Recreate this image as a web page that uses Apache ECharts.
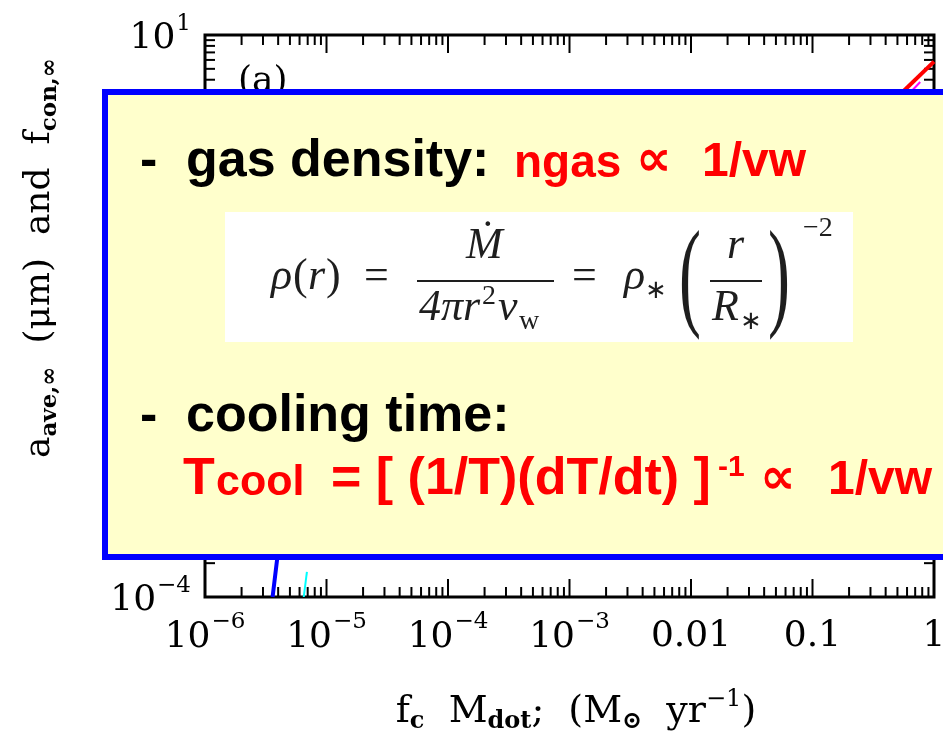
<!DOCTYPE html>
<html>
<head>
<meta charset="utf-8">
<script src="https://cdn.jsdelivr.net/npm/echarts@6/dist/echarts.min.js"></script>
<style>
  html, body { margin: 0; padding: 0; background: #fff; }
  #chart { width: 943px; height: 739px; }
</style>
</head>
<body>
<div id="chart"></div>
<script>
// Decades shown on each log axis and their tick labels ([mantissa text, exponent text])
const xDecades = [-6, -5, -4, -3, -2, -1, 0];
const xTickLabels = [['10', '\u22126'], ['10', '\u22125'], ['10', '\u22124'], ['10', '\u22123'], ['0.01', ''], ['0.1', ''], ['1', '']];
const yDecades = [-4, -3, -2, -1, 0, 1];
const yTickLabels = [['10', '\u22124'], ['10', '\u22123'], ['0.01', ''], ['0.1', ''], ['1', ''], ['10', '1']];

// Model curves: [f_c Mdot (Msun/yr), a_ave or f_con]
const redCurve = [[0.5, 2.81], [1.0, 5.79]];
const magentaCurve = [[0.55, 2.6], [0.77, 3.82]];
const blueCurve = [[3.6e-6, 1.0e-4], [3.95e-6, 2.3e-4], [4.3e-6, 5.0e-4]];
const cyanCurve = [[6.5e-6, 1.0e-4], [6.9e-6, 1.67e-4]];

const SERIF = 'DejaVu Serif';
const SANS = 'Liberation Sans';
const MATH = 'Liberation Serif';
const LBL = 36;      // tick label size
const TTL = 38;      // axis title size
const SUP = 23;      // super/subscript size

// Tick marks on all four sides of the frame: [x, y, axis(0=x,1=y), major]
const tickData = [];
xDecades.forEach(function (d) {
  tickData.push([Math.pow(10, d), 1, 0, 1]);
  if (d < xDecades[xDecades.length - 1]) {
    for (let m = 2; m <= 9; m++) tickData.push([m * Math.pow(10, d), 1, 0, 0]);
  }
});
yDecades.forEach(function (d) {
  tickData.push([1e-3, Math.pow(10, d), 1, 1]);
  if (d < yDecades[yDecades.length - 1]) {
    for (let m = 2; m <= 9; m++) tickData.push([1e-3, m * Math.pow(10, d), 1, 0]);
  }
});

function tickText(decades, labels) {
  return function (val) {
    const i = decades.indexOf(Math.round(Math.log10(val)));
    if (i < 0) return '';
    const l = labels[i];
    return l[1] ? '{b|' + l[0] + '}{e|' + l[1] + '}' : '{b|' + l[0] + '}';
  };
}
const tickRich = {
  b: { fontFamily: SERIF, fontSize: LBL, color: '#000', padding: [8, 0, 0, 0] },
  e: { fontFamily: SERIF, fontSize: SUP, color: '#000', padding: [0, 0, 22, 1] }
};

// Text placed by its baseline
function txt(str, x, base, size, color, extra) {
  return {
    type: 'text', x: x, y: base - 0.35 * size, z: 120,
    style: Object.assign({
      text: str, fontSize: size, fontFamily: SANS, fontWeight: 'bold',
      fill: color, align: 'left', verticalAlign: 'middle'
    }, extra || {})
  };
}
function mtxt(str, x, base, size, extra) {
  return txt(str, x, base, size, '#1e1e1e', Object.assign({ fontFamily: MATH, fontWeight: 'normal', fontStyle: 'italic' }, extra || {}));
}

const RED = '#ff0000';
const BLK = '#000000';

const graphics = [
  // y-axis title
  {
    type: 'text', x: 40, y: 258, rotation: Math.PI / 2, z: 10,
    style: {
      text: 'a{s|ave,\u221e}  (\u03bcm)  and  f{s|con,\u221e}',
      fontFamily: SERIF, fontSize: LBL, fill: '#000', align: 'center', verticalAlign: 'middle',
      rich: { s: { fontFamily: SERIF, fontSize: SUP, fontWeight: 'bold', padding: [20, 0, 0, 0] } }
    }
  },
  // x-axis title
  {
    type: 'text', x: 576, y: 712, z: 10,
    style: {
      text: 'f{s|c}  M{s|dot};  (M{s|\u2299}  yr{p|\u22121})',
      fontFamily: SERIF, fontSize: TTL, fill: '#000', align: 'center', verticalAlign: 'middle',
      rich: {
        s: { fontFamily: SERIF, fontSize: 24, fontWeight: 'bold', padding: [20, 0, 0, 0] },
        p: { fontFamily: SERIF, fontSize: 24, padding: [0, 0, 24, 0] }
      }
    }
  },
  // panel tag
  {
    type: 'text', x: 238, y: 82, z: 10,
    style: { text: '(a)', fontFamily: SERIF, fontSize: LBL, fill: '#000', align: 'left', verticalAlign: 'middle' }
  },
  // overlay note box
  {
    type: 'rect', z: 100,
    shape: { x: 105, y: 92, width: 900, height: 465 },
    style: { fill: '#ffffcc', stroke: '#0000ff', lineWidth: 6 }
  },
  // formula background
  {
    type: 'rect', z: 110,
    shape: { x: 225, y: 212, width: 628, height: 130 },
    style: { fill: '#ffffff' }
  },

  // line 1
  txt('-', 140, 180, 52, BLK),
  txt('gas density:', 186, 180, 52, BLK),
  txt('ngas', 514, 180, 46, RED),
  txt('\u221d', 636, 180, 50, RED, { fontFamily: 'DejaVu Sans' }),
  txt('1/vw', 702, 180, 48, RED),

  // formula
  mtxt('\u03c1', 271, 293, 44),
  mtxt('(', 293, 293, 44, { fontStyle: 'normal' }),
  mtxt('r', 308, 293, 44),
  mtxt(')', 326, 293, 44, { fontStyle: 'normal' }),
  mtxt('=', 364, 293, 44, { fontStyle: 'normal' }),
  mtxt('\u1e40', 466, 262, 44),
  { type: 'line', z: 120, shape: { x1: 417, y1: 281, x2: 554, y2: 281 }, style: { stroke: '#1e1e1e', lineWidth: 2 } },
  mtxt('4\u03c0r', 419, 324, 44),
  mtxt('2', 482, 306, 28, { fontStyle: 'normal' }),
  mtxt('v', 498, 324, 44),
  mtxt('w', 519, 331, 28, { fontStyle: 'normal' }),
  mtxt('=', 572, 293, 44, { fontStyle: 'normal' }),
  mtxt('\u03c1', 624, 293, 44),
  mtxt('\u2217', 645, 300, 26, { fontStyle: 'normal' }),
  {
    type: 'text', x: 679, y: 282, z: 120, scaleX: 0.55,
    style: { text: '(', fontFamily: MATH, fontSize: 120, fill: '#1e1e1e', align: 'left', verticalAlign: 'middle' }
  },
  mtxt('r', 727, 262, 44),
  { type: 'line', z: 120, shape: { x1: 710, y1: 281, x2: 762, y2: 281 }, style: { stroke: '#1e1e1e', lineWidth: 2 } },
  mtxt('R', 712, 324, 44),
  mtxt('\u2217', 740, 331, 26, { fontStyle: 'normal' }),
  {
    type: 'text', x: 768, y: 282, z: 120, scaleX: 0.55,
    style: { text: ')', fontFamily: MATH, fontSize: 120, fill: '#1e1e1e', align: 'left', verticalAlign: 'middle' }
  },
  mtxt('\u22122', 803, 238, 28, { fontStyle: 'normal' }),

  // line 3
  txt('-', 140, 435, 52, BLK),
  txt('cooling time:', 186, 435, 52, BLK),

  // line 4
  txt('T', 183, 498, 52, RED),
  txt('cool', 216, 498, 43, RED),
  txt('= [ (1/T)(dT/dt) ]', 331, 498, 52, RED),
  txt('-1', 718, 478, 30, RED),
  txt('\u221d', 760, 498, 50, RED, { fontFamily: 'DejaVu Sans' }),
  txt('1/vw', 828, 498, 48, RED)
];

const chart = echarts.init(document.getElementById('chart'), null, { renderer: 'canvas' });
chart.setOption({
  animation: false,
  backgroundColor: '#ffffff',
  grid: {
    left: 205, top: 35, width: 729, height: 562,
    show: true, borderColor: '#000', borderWidth: 3, backgroundColor: 'transparent',
    containLabel: false, outerBoundsMode: 'none'
  },
  xAxis: {
    type: 'log', logBase: 10, min: 1e-6, max: 1,
    axisLine: { show: false }, axisTick: { show: false }, splitLine: { show: false },
    axisLabel: { formatter: tickText(xDecades, xTickLabels), rich: tickRich, margin: 14, color: '#000' }
  },
  yAxis: {
    type: 'log', logBase: 10, min: 1e-4, max: 10,
    axisLine: { show: false }, axisTick: { show: false }, splitLine: { show: false },
    axisLabel: { formatter: tickText(yDecades, yTickLabels), rich: tickRich, margin: 14, color: '#000' }
  },
  graphic: graphics,
  series: [
    {
      type: 'custom', clip: false, z: 3, silent: true,
      encode: { x: 0, y: 1 },
      data: tickData,
      renderItem: function (params, api) {
        const cs = params.coordSys;
        const axis = api.value(2);
        const len = api.value(3) ? 18 : 10;
        const st = { stroke: '#000', lineWidth: 2 };
        if (axis === 0) {
          const x = api.coord([api.value(0), 1])[0];
          const yb = cs.y + cs.height, yt = cs.y;
          return { type: 'group', children: [
            { type: 'line', shape: { x1: x, y1: yb, x2: x, y2: yb - len }, style: st },
            { type: 'line', shape: { x1: x, y1: yt, x2: x, y2: yt + len }, style: st }
          ] };
        }
        const y = api.coord([1e-3, api.value(1)])[1];
        const xl = cs.x, xr = cs.x + cs.width;
        return { type: 'group', children: [
          { type: 'line', shape: { x1: xl, y1: y, x2: xl + len, y2: y }, style: st },
          { type: 'line', shape: { x1: xr, y1: y, x2: xr - len, y2: y }, style: st }
        ] };
      }
    },
    { type: 'line', data: redCurve, symbol: 'none', lineStyle: { color: '#ff0000', width: 4 }, z: 4 },
    { type: 'line', data: magentaCurve, symbol: 'none', lineStyle: { color: '#ff00ff', width: 2 }, z: 4 },
    { type: 'line', data: blueCurve, symbol: 'none', lineStyle: { color: '#0000ff', width: 4 }, z: 4 },
    { type: 'line', data: cyanCurve, symbol: 'none', lineStyle: { color: '#00ffff', width: 2 }, z: 4 }
  ]
});
</script>
</body>
</html>
